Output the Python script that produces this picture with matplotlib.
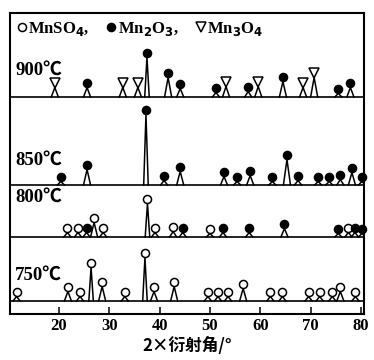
import matplotlib
matplotlib.use("Agg")
import matplotlib.pyplot as plt
from matplotlib.lines import Line2D

plt.rcParams['font.family'] = ['Liberation Serif', 'Noto Sans CJK SC', 'DejaVu Sans']
plt.rcParams['font.weight'] = 'bold'

# peak positions (2theta, deg), marker height above baseline, phase
# phase: 's' = MnSO4 (open circle), 'b' = Mn2O3 (filled), 't' = Mn3O4 (triangle)
pos_900 = [19.2, 25.6, 32.7, 35.7, 37.5, 41.7, 44.1, 51.2, 53.2, 57.6, 59.6, 64.5, 68.5, 70.7, 75.5, 77.9]
h_900 = [14, 14, 14, 14, 44, 24, 13, 9, 15, 10, 15, 20, 14, 24, 8, 14]
ph_900 = ['t', 'b', 't', 't', 'b', 'b', 'b', 'b', 't', 'b', 't', 'b', 't', 't', 'b', 'b']

pos_850 = [20.4, 25.6, 37.3, 40.9, 44.1, 52.8, 55.4, 58.0, 62.4, 65.3, 67.5, 71.5, 73.7, 75.9, 78.2, 80.2]
h_850 = [8, 20, 75, 9, 18, 13, 8, 14, 8, 30, 9, 8, 8, 10, 17, 8]
ph_850 = ['b'] * 16

pos_800 = [21.7, 23.8, 25.5, 27.0, 28.8, 37.6, 39.1, 42.7, 44.6, 50.0, 52.6, 57.8, 64.8, 75.5, 77.5, 78.8, 80.2]
h_800 = [9, 9, 9, 19, 9, 38, 9, 10, 9, 8, 9, 9, 13, 8, 9, 9, 8]
ph_800 = ['s', 's', 'b', 's', 's', 's', 's', 's', 'b', 's', 'b', 'b', 'b', 'b', 's', 'b', 'b']

pos_750 = [11.6, 21.8, 24.2, 26.4, 28.6, 33.1, 37.1, 38.9, 42.9, 49.6, 51.6, 53.6, 56.6,
           62.0, 64.4, 69.6, 71.8, 74.3, 75.9, 78.9]
h_750 = [9, 14, 9, 38, 19, 9, 48, 14, 19, 9, 9, 9, 17, 9, 9, 9, 9, 9, 14, 9]
ph_750 = ['s'] * 20

labels = ['900℃', '850℃', '800℃', '750℃']
base = [217, 129, 77, 13]
label_y = [244, 154, 117, 39]

styles = {
    's': dict(marker='o', mfc='white', mec='black', ms=5.8),
    'b': dict(marker='o', mfc='black', mec='black', ms=5.8),
    't': dict(marker='v', mfc='white', mec='black', ms=6.8),
}

fig = plt.figure(figsize=(3.74, 3.6), dpi=100)
ax = fig.add_axes([10 / 374, 46 / 360, 354 / 374, 301 / 360])
ax.set_xlim(10.3, 80.6)
ax.set_ylim(0, 301)

traces = [(pos_900, h_900, ph_900), (pos_850, h_850, ph_850),
          (pos_800, h_800, ph_800), (pos_750, h_750, ph_750)]

for (pos, hs, phs), b0, lab, ly in zip(traces, base, labels, label_y):
    ax.axhline(b0, color='black', lw=1.2)
    for p, h, ph in zip(pos, hs, phs):
        top = max(h - 4.5, 1.5)
        w = 0.45 if h > 30 else 0.7
        ax.plot([p - w, p, p + w], [b0, b0 + top, b0], color='black', lw=1.1)
        ax.plot([p], [b0 + h], ls='none', mew=1.1, clip_on=False, **styles[ph])
    ax.text(11.3, ly, lab, fontsize=13.5, fontweight='bold', va='center', ha='left')

handles = [Line2D([], [], ls='none', mew=1.1, **styles[k]) for k in ['s', 'b', 't']]
ax.legend(handles, ['MnSO$_4$,', 'Mn$_2$O$_3$,', 'Mn$_3$O$_4$'], loc='upper left',
          ncol=3, frameon=False, handlelength=0.6, handletextpad=0.1,
          columnspacing=1.0, borderaxespad=0.2, borderpad=0.2,
          prop={'weight': 'bold', 'size': 12})

ax.set_xticks([20, 30, 40, 50, 60, 70, 80])
ax.set_yticks([])
ax.tick_params(axis='x', direction='in', length=5, width=1.1, labelsize=12, pad=3)
for lbl in ax.get_xticklabels():
    lbl.set_fontweight('bold')
for s in ax.spines.values():
    s.set_linewidth(1.5)
ax.set_xlabel('2×衍射角/°', fontsize=12, fontweight='bold', labelpad=2,
              family=['Noto Sans CJK SC', 'DejaVu Sans'])

fig.savefig('out.png', dpi=100)
